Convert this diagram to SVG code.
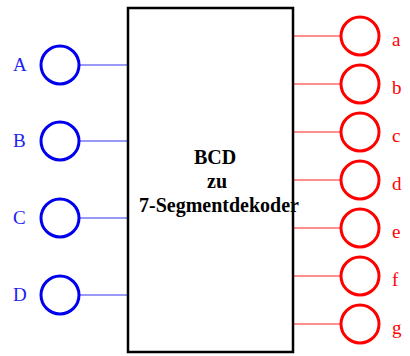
<svg xmlns="http://www.w3.org/2000/svg" width="410" height="356" viewBox="0 0 410 356">
<style>
.in{fill:none;stroke:#0000ee;stroke-width:3}
.out{fill:none;stroke:#ff0000;stroke-width:3}
.inl{stroke:#3333ee;stroke-width:1.2}
.outl{stroke:#ff2020;stroke-width:1.2}
text{font-family:'Liberation Serif','Times New Roman',serif}
.tin{font-size:19px;fill:#2222ee}
.tout{font-size:19px;fill:#ff0000}
.tc{font-size:20px;font-weight:bold;fill:#000;text-anchor:middle}
</style>
<rect width="410" height="356" fill="#fff"/>
<g id="connectors">
<line class="inl" x1="80" y1="65" x2="128" y2="65"/>
<line class="inl" x1="80" y1="141" x2="128" y2="141"/>
<line class="inl" x1="80" y1="218" x2="128" y2="218"/>
<line class="inl" x1="80" y1="295" x2="128" y2="295"/>
<line class="outl" x1="293" y1="36" x2="340" y2="36"/>
<line class="outl" x1="293" y1="84" x2="340" y2="84"/>
<line class="outl" x1="293" y1="132" x2="340" y2="132"/>
<line class="outl" x1="293" y1="180" x2="340" y2="180"/>
<line class="outl" x1="293" y1="228" x2="340" y2="228"/>
<line class="outl" x1="293" y1="276" x2="340" y2="276"/>
<line class="outl" x1="293" y1="324" x2="340" y2="324"/>
</g>
<g id="decoder">
<rect x="128" y="8" width="165" height="344" fill="none" stroke="#000" stroke-width="2.5"/>
<text class="tc" x="215" y="164">BCD</text>
<text class="tc" x="217" y="188">zu</text>
<text class="tc" x="219" y="212">7-Segmentdekoder</text>
</g>
<g id="A"><circle class="in" cx="60" cy="65" r="19"/><text class="tin" x="13" y="71">A</text></g>
<g id="B"><circle class="in" cx="60" cy="141" r="19"/><text class="tin" x="13" y="147">B</text></g>
<g id="C"><circle class="in" cx="60" cy="218" r="19"/><text class="tin" x="13" y="224">C</text></g>
<g id="D"><circle class="in" cx="60" cy="295" r="19"/><text class="tin" x="13" y="301">D</text></g>
<g id="a"><circle class="out" cx="360" cy="36" r="19"/><text class="tout" x="392" y="46">a</text></g>
<g id="b"><circle class="out" cx="360" cy="84" r="19"/><text class="tout" x="392" y="94">b</text></g>
<g id="c"><circle class="out" cx="360" cy="132" r="19"/><text class="tout" x="392" y="142">c</text></g>
<g id="d"><circle class="out" cx="360" cy="180" r="19"/><text class="tout" x="392" y="190">d</text></g>
<g id="e"><circle class="out" cx="360" cy="228" r="19"/><text class="tout" x="392" y="238">e</text></g>
<g id="f"><circle class="out" cx="360" cy="276" r="19"/><text class="tout" x="392" y="286">f</text></g>
<g id="g"><circle class="out" cx="360" cy="324" r="19"/><text class="tout" x="392" y="334">g</text></g>
</svg>
